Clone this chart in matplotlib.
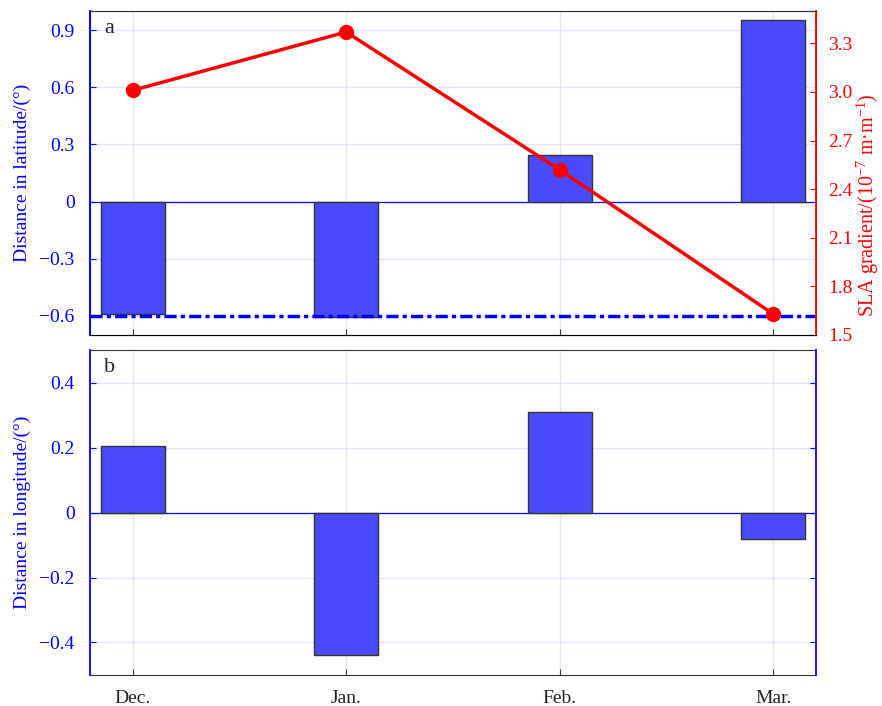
import numpy as np
import matplotlib.pyplot as plt
from matplotlib.ticker import FuncFormatter

plt.rcParams['font.family'] = ['Liberation Serif', 'DejaVu Serif']
plt.rcParams['mathtext.fontset'] = 'custom'
plt.rcParams['mathtext.rm'] = 'Liberation Serif'
plt.rcParams['mathtext.it'] = 'Liberation Serif:italic'
plt.rcParams['axes.unicode_minus'] = True

months = ['Dec.', 'Jan.', 'Feb.', 'Mar.']
lat_dist = [-0.59, -0.605, 0.245, 0.955]
lon_dist = [0.205, -0.44, 0.31, -0.08]
sla_grad = [3.01, 3.37, 2.52, 1.63]
lat_ref = -0.6

x = np.arange(len(months))
bar_blue = '#4a4aff'
grid_blue = '#e3e3fb'
grid_gray = '#e6e6e6'


def fmt(v, pos):
    if abs(v) < 1e-9:
        return '0'
    return ('%.1f' % v).replace('-', '\u2212')


fig = plt.figure(figsize=(8.82, 7.06), dpi=100)
ax1 = fig.add_axes([0.102, 0.5255, 0.823, 0.459])
ax2 = fig.add_axes([0.102, 0.044, 0.823, 0.460])

for ax in (ax1, ax2):
    for xi in x:
        ax.axvline(xi, color=grid_gray, lw=1.0, zorder=0)
    ax.axhline(0, color='blue', lw=0.9, zorder=1)
    ax.set_xlim(-0.2, 3.2)
    ax.set_xticks(x)
    ax.tick_params(axis='x', direction='in', length=4, colors='#333333')
    ax.spines['top'].set_color('#333333')
    ax.spines['bottom'].set_color('#333333')
    ax.spines['left'].set_color('blue')
    ax.spines['left'].set_linewidth(1.3)

# panel a: latitude shift bars plus SLA gradient line
ax1.bar(x, lat_dist, width=0.3, color=bar_blue, edgecolor='#333333',
        linewidth=1.0, zorder=2)
ax1.axhline(lat_ref, color='blue', lw=2.5, ls=(0, (3.5, 1.2, 1.2, 1.2)),
            zorder=3)
ax1.set_ylim(-0.7, 1.0)
ax1.set_yticks([-0.6, -0.3, 0, 0.3, 0.6, 0.9])
for t in [-0.6, -0.3, 0.3, 0.6, 0.9]:
    ax1.axhline(t, color=grid_blue, lw=1.0, zorder=0)
ax1.yaxis.set_major_formatter(FuncFormatter(fmt))
ax1.tick_params(axis='y', direction='in', length=4, colors='blue',
                labelsize=14, pad=11)
ax1.set_xticklabels([])
ax1.set_ylabel('Distance in latitude/(°)', color='blue', fontsize=14,
               labelpad=6)
ax1.text(0.02, 0.975, 'a', transform=ax1.transAxes, fontsize=16,
         va='top', ha='left', color='#222222')

ax1r = ax1.twinx()
ax1r.plot(x, sla_grad, color='red', lw=2.5, marker='o', markersize=10,
          zorder=4)
ax1r.set_ylim(1.5, 3.5)
ax1r.set_yticks([1.5, 1.8, 2.1, 2.4, 2.7, 3.0, 3.3])
ax1r.yaxis.set_major_formatter(FuncFormatter(lambda v, p: '%.1f' % v))
ax1r.tick_params(axis='y', direction='in', length=4, colors='red',
                 labelsize=14, pad=9)
ax1r.spines['right'].set_color('red')
ax1r.spines['right'].set_linewidth(1.3)
ax1r.spines['left'].set_color('blue')
ax1r.spines['left'].set_linewidth(1.3)
ax1r.spines['top'].set_color('#333333')
ax1r.set_ylabel(r'SLA gradient/(10$^{-7}$ m·m$^{-1}$)', color='red',
                fontsize=14.5)
ax1r.yaxis.set_label_coords(1.054, 0.40)

# panel b: longitude shift bars
ax2.bar(x, lon_dist, width=0.3, color=bar_blue, edgecolor='#333333',
        linewidth=1.0, zorder=2)
ax2.set_ylim(-0.5, 0.5)
ax2.set_yticks([-0.4, -0.2, 0, 0.2, 0.4])
for t in [-0.4, -0.2, 0.2, 0.4]:
    ax2.axhline(t, color=grid_blue, lw=1.0, zorder=0)
ax2.yaxis.set_major_formatter(FuncFormatter(fmt))
ax2.tick_params(axis='y', direction='in', length=4, colors='blue',
                labelsize=14, right=True, pad=11)
ax2.spines['right'].set_color('blue')
ax2.spines['right'].set_linewidth(1.3)
ax2.set_xticklabels(months, fontsize=14)
ax2.tick_params(axis='x', labelcolor='#222222', pad=11)
ax2.set_ylabel('Distance in longitude/(°)', color='blue', fontsize=14,
               labelpad=6)
ax2.text(0.02, 0.975, 'b', transform=ax2.transAxes, fontsize=16,
         va='top', ha='left', color='#222222')

fig.savefig('out.png', dpi=100)
